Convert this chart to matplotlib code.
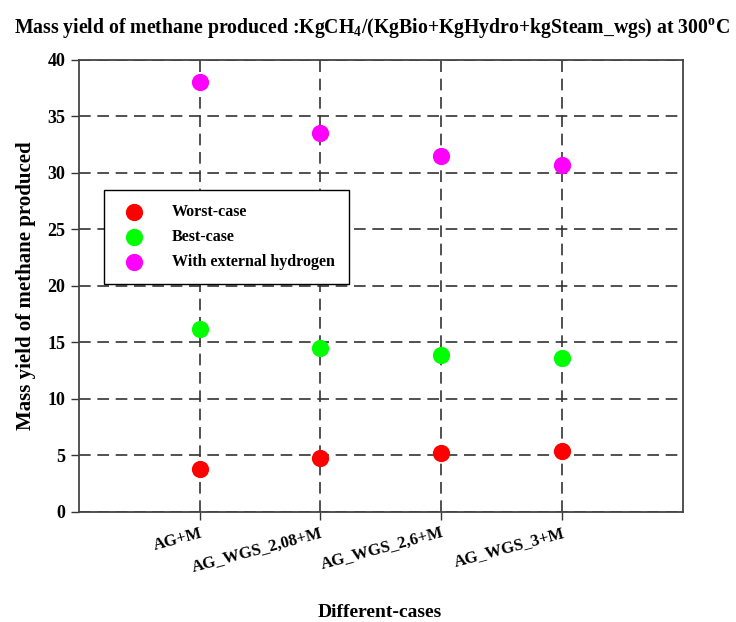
import numpy as np
import matplotlib.pyplot as plt

cases = ["AG+M", "AG_WGS_2,08+M", "AG_WGS_2,6+M", "AG_WGS_3+M"]
worst = [3.8, 4.8, 5.2, 5.4]
best = [16.2, 14.5, 13.9, 13.6]
ext_h2 = [38.0, 33.5, 31.5, 30.7]

plt.rcParams['font.family'] = ['Liberation Serif', 'DejaVu Serif']
plt.rcParams['font.weight'] = 'bold'
plt.rcParams['mathtext.fontset'] = 'custom'
plt.rcParams['mathtext.bf'] = 'Liberation Serif:bold'
plt.rcParams['mathtext.rm'] = 'Liberation Serif:bold'

fig = plt.figure(figsize=(7.36, 6.22), dpi=100)
ax = fig.add_axes([0.107, 0.177, 0.821, 0.727])

x = np.arange(1, len(cases) + 1)
ax.scatter(x, worst, s=130, color="#ff0000", label="Worst-case", zorder=3)
ax.scatter(x, best, s=130, color="#00ff00", label="Best-case", zorder=3)
ax.scatter(x, ext_h2, s=130, color="#ff00ff", label="With external hydrogen", zorder=3)

ax.set_xlim(0, 5)
ax.set_ylim(0, 40)
ax.set_yticks(np.arange(0, 41, 5))
ax.set_xticks(x)
ax.set_xticklabels(cases, rotation=15, ha="right", rotation_mode="anchor")
ax.tick_params(axis="y", labelsize=13, length=6, width=1, color="#333333")
ax.tick_params(axis="x", labelsize=12, length=6, width=1, color="#333333")
for lab in ax.get_xticklabels() + ax.get_yticklabels():
    lab.set_fontweight("bold")

ax.grid(True, color="#333333", linestyle=(0, (7, 4)), linewidth=1.2)
ax.set_axisbelow(True)
for sp in ax.spines.values():
    sp.set_linewidth(1.3)
    sp.set_color("#444444")

ax.set_ylabel("Mass yield of methane produced", fontsize=15, fontweight="bold", labelpad=8)
fig.text(0.516, 0.0145, "Different-cases", ha="center", va="center", fontsize=14, fontweight="bold")
fig.text(0.505, 0.955, r"Mass yield of methane produced :KgCH$_{\mathbf{4}}$/(KgBio+KgHydro+kgSteam_wgs) at 300$^{\mathbf{o}}$C",
         ha="center", va="center", fontsize=14.2, fontweight="bold")

leg = ax.legend(loc="upper left", bbox_to_anchor=(0.041, 0.712), fancybox=False,
                edgecolor="black", framealpha=1, fontsize=11.5, borderpad=0.9,
                handletextpad=1.4, labelspacing=0.55, borderaxespad=0)
leg.get_frame().set_linewidth(1.0)
for t in leg.get_texts():
    t.set_fontweight("bold")

fig.savefig("out.png", dpi=100)
